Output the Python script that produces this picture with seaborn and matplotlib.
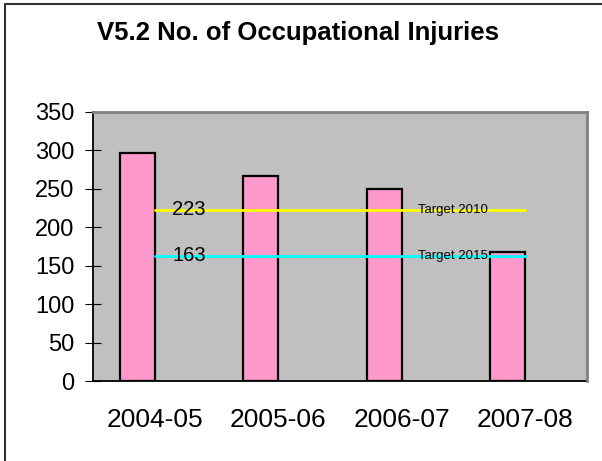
import pandas as pd
import matplotlib
matplotlib.use('Agg')
import matplotlib.pyplot as plt
import seaborn as sns

# Data
years = ['2004-05', '2005-06', '2006-07', '2007-08']
injuries = [297, 267, 250, 168]
target_2010 = 223
target_2015 = 163

df = pd.DataFrame({'Year': years, 'Injuries': injuries})

sns.set_style('white')
plt.rcParams['font.family'] = ['Liberation Sans', 'DejaVu Sans']
plt.rcParams['text.color'] = 'black'
plt.rcParams['xtick.color'] = 'black'
plt.rcParams['ytick.color'] = 'black'

fig = plt.figure(figsize=(6.02, 4.61), dpi=100)
ax = fig.add_axes([0.155, 0.1729, 0.8196, 0.5848])
ax.set_facecolor('#C0C0C0')

bar_w = 0.284
sns.barplot(data=df, x='Year', y='Injuries', color='#FF99CC', width=bar_w,
            edgecolor='black', linewidth=1.6, saturation=1, ax=ax)
# bars sit in the left half of each category slot
for p in ax.patches:
    p.set_x(p.get_x() - bar_w / 2)

# target lines, from the first to the last category
ax.plot([0, 3], [target_2010, target_2010], color='#FFFF00', lw=2, zorder=3)
ax.plot([0, 3], [target_2015, target_2015], color='#00FFFF', lw=2, zorder=3)
ax.text(0.14, target_2010, str(target_2010), fontsize=14.5, va='center', zorder=4)
ax.text(0.14, target_2015, str(target_2015), fontsize=14.5, va='center', zorder=4)
ax.text(2.13, target_2010, 'Target 2010', fontsize=9.5, va='center', zorder=4)
ax.text(2.13, target_2015, 'Target 2015', fontsize=9.5, va='center', zorder=4)

ax.set_xlim(-0.5, 3.5)
ax.set_ylim(0, 350)
ax.set_yticks(range(0, 351, 50))
ax.set_xlabel('')
ax.set_ylabel('')

ax.set_xticks([-0.5, 0.5, 1.5, 2.5, 3.5], minor=True)
ax.tick_params(axis='x', which='major', length=0, pad=19, labelsize=19)
ax.tick_params(axis='x', which='minor', direction='inout', length=11, width=0.8, color='black')
ax.tick_params(axis='y', direction='inout', length=11, width=0.8, color='black',
               labelsize=17, pad=8, left=True)

for s in ['left', 'bottom']:
    ax.spines[s].set_color('black')
    ax.spines[s].set_linewidth(1.3)
for s in ['top', 'right']:
    ax.spines[s].set_visible(True)
    ax.spines[s].set_color('#808080')
    ax.spines[s].set_linewidth(2)
    ax.spines[s].set_zorder(5)

fig.text(0.495, 0.928, 'V5.2 No. of Occupational Injuries', fontsize=18.5,
         fontweight='bold', ha='center', va='center')

# chart frame (left and top edges visible)
fig.add_artist(plt.Line2D([0.008, 0.008], [0, 0.991], color='#333333', lw=1.5))
fig.add_artist(plt.Line2D([0.008, 1], [0.991, 0.991], color='#333333', lw=1.5))

plt.savefig('out.png', dpi=100)
